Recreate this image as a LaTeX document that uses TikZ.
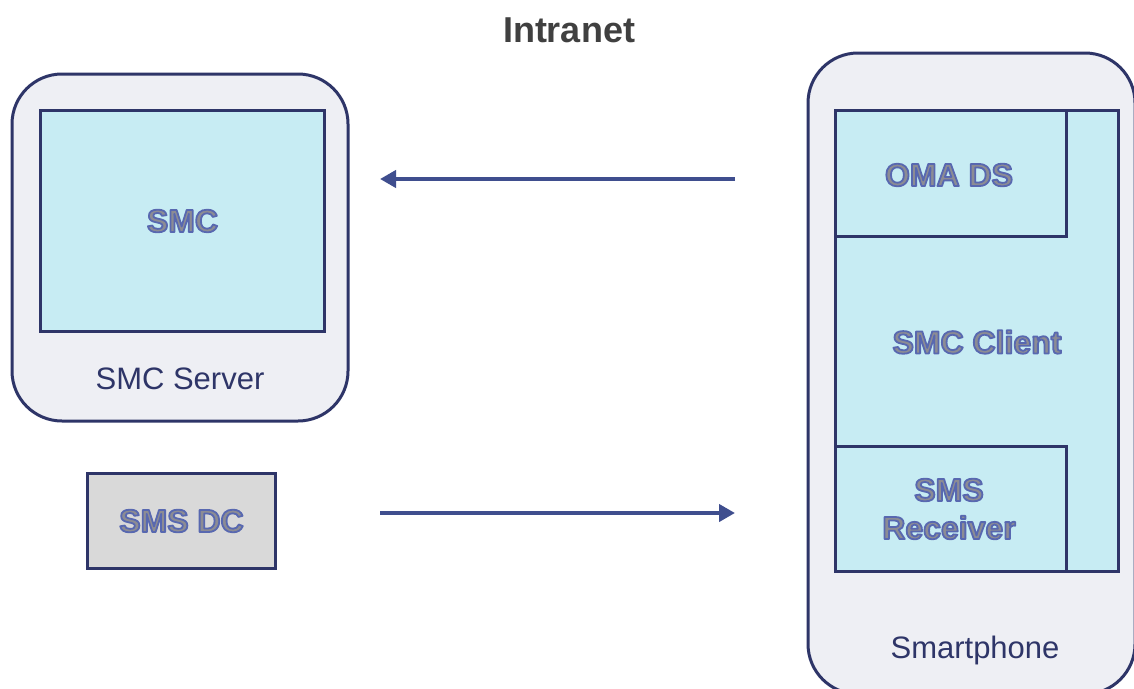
\documentclass[tikz,border=0pt]{standalone}
\usepackage{fontspec}
\setmainfont{Liberation Sans}
\usetikzlibrary{arrows.meta}
\definecolor{navy}{HTML}{2E3568}
\definecolor{outerfill}{HTML}{EEEFF4}
\definecolor{innerfill}{HTML}{C7ECF3}
\definecolor{dcfill}{HTML}{D9D9D9}
\definecolor{arrowblue}{HTML}{3F4E8E}
\definecolor{titlegray}{HTML}{404040}
\definecolor{labelgray}{HTML}{8C8C94}
\newcommand{\olabel}[1]{\textcolor{labelgray}{\special{pdf:literal direct 2 Tr 1.8 w 1 j 0.345 0.408 0.69 RG}#1\special{pdf:literal direct 0 Tr}}}
\tikzset{
  outerbox/.style={draw=navy, line width=3pt, fill=outerfill, rounded corners=50pt},
  innerbox/.style={draw=navy, line width=3pt, fill=innerfill, rectangle, inner sep=0pt, anchor=north west},
  dcbox/.style={draw=navy, line width=3pt, fill=dcfill, rectangle, inner sep=0pt, anchor=north west},
  boldlabel/.style={font=\bfseries\fontsize{32}{38}\selectfont, align=center, inner sep=0pt},
  plainlabel/.style={font=\fontsize{31}{36}\selectfont, text=navy, inner sep=0pt},
  arr/.style={draw=arrowblue, line width=4pt, -{Triangle[length=16pt,width=17pt]}}
}
\begin{document}
\begin{tikzpicture}[x=1pt,y=-1pt]
\useasboundingbox (0,0) rectangle (1134,688);
\clip (0,0) rectangle (1134,688);
\fill[white] (0,0) rectangle (1134,688);

\node[font=\bfseries\fontsize{36}{40}\selectfont, text=titlegray, inner sep=0pt] (title) at (569,30) {Intranet};

% SMC Server
\draw[outerbox] (12,74) rectangle (348,421);
\node[innerbox, minimum width=284pt, minimum height=221pt] (smc) at (39,109) {};
\node[boldlabel] (smclabel) at (smc.center) {\olabel{SMC}};
\node[plainlabel] (server) at (180,379) {SMC Server};

% SMS DC
\node[dcbox, minimum width=188pt, minimum height=95pt] (smsdc) at (86,472) {};
\node[boldlabel] (smsdclabel) at (smsdc.center) {\olabel{SMS DC}};

% Smartphone
\draw[outerbox] (808,53) rectangle (1135,694);
\node[innerbox, minimum width=283pt, minimum height=461pt] (client) at (834,109) {};
\node[boldlabel] (clientlabel) at (977,342) {\olabel{SMC Client}};
\node[innerbox, minimum width=231pt, minimum height=126pt] (oma) at (834,109) {};
\node[boldlabel] (omalabel) at (949,175) {\olabel{OMA DS}};
\node[innerbox, minimum width=231pt, minimum height=125pt] (recv) at (834,445) {};
\node[boldlabel] (recvlabel) at (949,509) {\olabel{SMS}\\\olabel{Receiver}};
\node[plainlabel] (phone) at (975,650) {Smartphone};

% arrows
\coordinate (a1s) at (735,179);
\coordinate (a1e) at (380,179);
\coordinate (a2s) at (380,513);
\coordinate (a2e) at (735,513);
\draw[arr] (a1s) -- (a1e);
\draw[arr] (a2s) -- (a2e);
\end{tikzpicture}
\end{document}
